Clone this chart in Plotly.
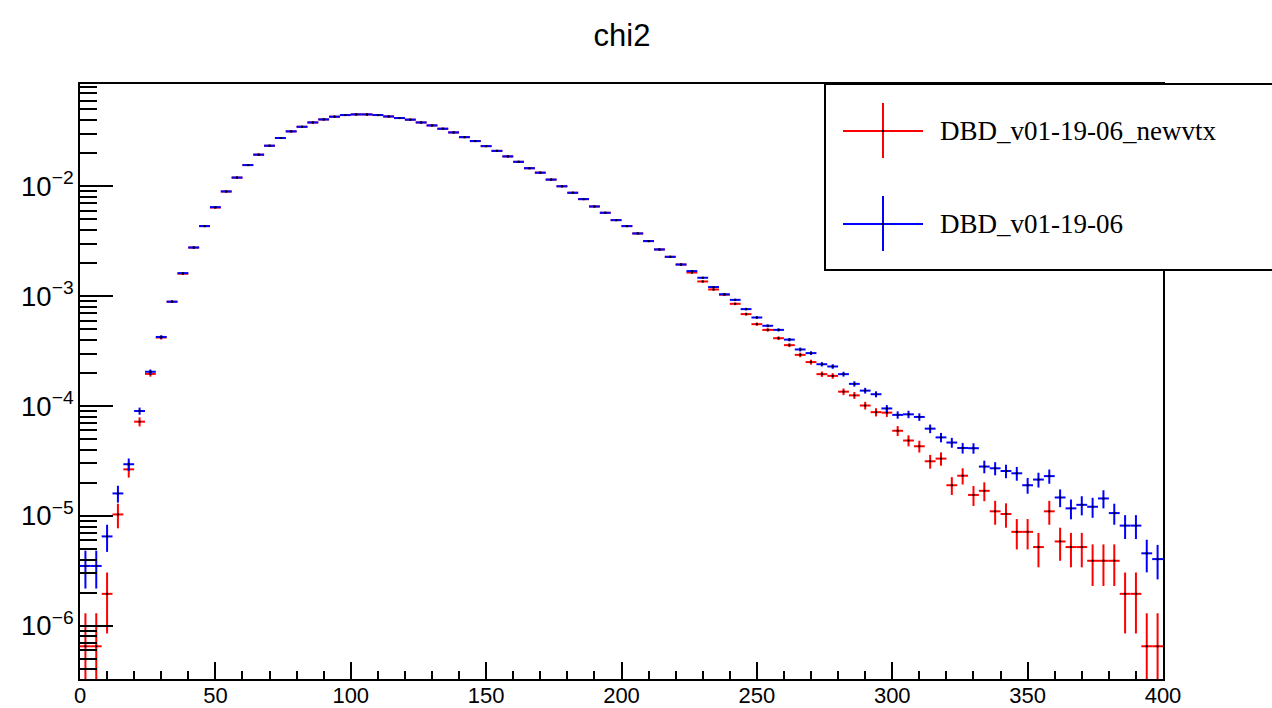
import plotly.graph_objects as go

# ---------------- data ----------------
bin_width = 4
bin_centers = [2 + bin_width * i for i in range(100)]

red_label = "DBD_v01-19-06_newvtx"
blue_label = "DBD_v01-19-06"

red_values = [
    6.5e-7, 6.5e-7, 1.95e-6, 1.03e-5, 2.65e-5, 7.2e-5, 1.96e-4, 4.2e-4, 8.9e-4, 1.60e-3,
    2.77e-3, 4.34e-3, 6.40e-3, 8.97e-3, 1.20e-2, 1.56e-2, 1.94e-2, 2.34e-2, 2.75e-2, 3.16e-2,
    3.48e-2, 3.81e-2, 4.06e-2, 4.30e-2, 4.45e-2, 4.51e-2, 4.51e-2, 4.45e-2, 4.32e-2, 4.18e-2,
    4.04e-2, 3.81e-2, 3.58e-2, 3.34e-2, 3.09e-2, 2.80e-2, 2.58e-2, 2.32e-2, 2.10e-2, 1.87e-2,
    1.67e-2, 1.46e-2, 1.33e-2, 1.15e-2, 1.00e-2, 8.73e-3, 7.64e-3, 6.55e-3, 5.74e-3, 4.92e-3,
    4.34e-3, 3.72e-3, 3.17e-3, 2.66e-3, 2.28e-3, 1.94e-3, 1.64e-3, 1.36e-3, 1.15e-3, 1.03e-3,
    8.51e-4, 6.86e-4, 5.56e-4, 4.93e-4, 4.14e-4, 3.58e-4, 2.92e-4, 2.51e-4, 1.95e-4, 1.88e-4,
    1.35e-4, 1.25e-4, 1.01e-4, 8.79e-5, 8.7e-5, 5.95e-5, 4.85e-5, 4.3e-5, 3.14e-5, 3.32e-5,
    1.90e-5, 2.32e-5, 1.55e-5, 1.69e-5, 1.10e-5, 1.04e-5, 7.15e-6, 7.15e-6, 5.2e-6, 1.1e-5,
    5.85e-6, 5.2e-6, 5.2e-6, 3.9e-6, 3.9e-6, 3.9e-6, 1.95e-6, 1.95e-6, 6.5e-7, 6.5e-7,
]
red_errors = [
    6.5e-7, 6.5e-7, 1.1e-6, 2.6e-6, 4.2e-6, 6.8e-6, 1.1e-5, 1.7e-5, 2.4e-5, 3.2e-5,
    4.2e-5, 5.3e-5, 6.4e-5, 7.6e-5, 8.8e-5, 1.0e-4, 1.1e-4, 1.2e-4, 1.3e-4, 1.4e-4,
    1.5e-4, 1.6e-4, 1.6e-4, 1.7e-4, 1.7e-4, 1.7e-4, 1.7e-4, 1.7e-4, 1.7e-4, 1.6e-4,
    1.6e-4, 1.6e-4, 1.5e-4, 1.5e-4, 1.4e-4, 1.3e-4, 1.3e-4, 1.2e-4, 1.2e-4, 1.1e-4,
    1.0e-4, 9.7e-5, 9.3e-5, 8.6e-5, 8.1e-5, 7.5e-5, 7.0e-5, 6.5e-5, 6.1e-5, 5.7e-5,
    5.3e-5, 4.9e-5, 4.5e-5, 4.2e-5, 3.8e-5, 3.6e-5, 3.3e-5, 3.0e-5, 2.7e-5, 2.6e-5,
    2.4e-5, 2.1e-5, 1.9e-5, 1.8e-5, 1.6e-5, 1.5e-5, 1.4e-5, 1.3e-5, 1.1e-5, 1.1e-5,
    9.4e-6, 9.0e-6, 8.1e-6, 7.6e-6, 7.5e-6, 6.2e-6, 5.6e-6, 5.3e-6, 4.5e-6, 4.6e-6,
    3.5e-6, 3.9e-6, 3.2e-6, 3.3e-6, 2.7e-6, 2.6e-6, 2.2e-6, 2.2e-6, 1.8e-6, 2.7e-6,
    1.95e-6, 1.8e-6, 1.8e-6, 1.6e-6, 1.6e-6, 1.6e-6, 1.1e-6, 1.1e-6, 6.5e-7, 6.5e-7,
]

blue_values = [
    3.5e-6, 3.5e-6, 6.5e-6, 1.6e-5, 2.95e-5, 9.0e-5, 2.05e-4, 4.25e-4, 8.9e-4, 1.62e-3,
    2.77e-3, 4.34e-3, 6.46e-3, 8.97e-3, 1.20e-2, 1.56e-2, 1.94e-2, 2.34e-2, 2.75e-2, 3.16e-2,
    3.48e-2, 3.81e-2, 4.06e-2, 4.30e-2, 4.45e-2, 4.51e-2, 4.51e-2, 4.45e-2, 4.32e-2, 4.18e-2,
    4.04e-2, 3.81e-2, 3.58e-2, 3.34e-2, 3.09e-2, 2.80e-2, 2.58e-2, 2.32e-2, 2.10e-2, 1.87e-2,
    1.67e-2, 1.46e-2, 1.33e-2, 1.15e-2, 1.00e-2, 8.73e-3, 7.64e-3, 6.55e-3, 5.74e-3, 4.92e-3,
    4.34e-3, 3.72e-3, 3.17e-3, 2.66e-3, 2.28e-3, 1.94e-3, 1.69e-3, 1.47e-3, 1.21e-3, 1.04e-3,
    9.25e-4, 7.62e-4, 6.39e-4, 5.37e-4, 4.93e-4, 4.02e-4, 3.27e-4, 3.03e-4, 2.40e-4, 2.29e-4,
    1.95e-4, 1.59e-4, 1.38e-4, 1.28e-4, 9.5e-5, 8.3e-5, 8.4e-5, 7.95e-5, 6.22e-5, 5.18e-5,
    4.65e-5, 4.15e-5, 4.13e-5, 2.81e-5, 2.71e-5, 2.56e-5, 2.44e-5, 1.90e-5, 2.14e-5, 2.30e-5,
    1.47e-5, 1.17e-5, 1.26e-5, 1.21e-5, 1.44e-5, 1.06e-5, 8.15e-6, 8.15e-6, 4.56e-6, 4.04e-6,
]
blue_errors = [
    1.32e-6, 1.32e-6, 1.8e-6, 2.8e-6, 3.8e-6, 6.7e-6, 1.0e-5, 1.5e-5, 2.1e-5, 2.8e-5,
    3.7e-5, 4.7e-5, 5.7e-5, 6.7e-5, 7.7e-5, 8.8e-5, 9.8e-5, 1.1e-4, 1.2e-4, 1.3e-4,
    1.3e-4, 1.4e-4, 1.4e-4, 1.5e-4, 1.5e-4, 1.5e-4, 1.5e-4, 1.5e-4, 1.5e-4, 1.4e-4,
    1.4e-4, 1.4e-4, 1.3e-4, 1.3e-4, 1.2e-4, 1.2e-4, 1.1e-4, 1.1e-4, 1.0e-4, 9.7e-5,
    9.1e-5, 8.5e-5, 8.2e-5, 7.6e-5, 7.1e-5, 6.6e-5, 6.2e-5, 5.7e-5, 5.4e-5, 5.0e-5,
    4.7e-5, 4.3e-5, 4.0e-5, 3.6e-5, 3.4e-5, 3.1e-5, 2.9e-5, 2.7e-5, 2.5e-5, 2.3e-5,
    2.2e-5, 2.0e-5, 1.8e-5, 1.6e-5, 1.6e-5, 1.4e-5, 1.3e-5, 1.2e-5, 1.1e-5, 1.1e-5,
    9.9e-6, 8.9e-6, 8.3e-6, 8.0e-6, 6.9e-6, 6.4e-6, 6.5e-6, 6.3e-6, 5.6e-6, 5.1e-6,
    4.8e-6, 4.6e-6, 4.5e-6, 3.7e-6, 3.7e-6, 3.6e-6, 3.5e-6, 3.1e-6, 3.3e-6, 3.4e-6,
    2.7e-6, 2.4e-6, 2.5e-6, 2.5e-6, 2.7e-6, 2.3e-6, 2.0e-6, 2.0e-6, 1.5e-6, 1.4e-6,
]

x_ticks = [0, 50, 100, 150, 200, 250, 300, 350, 400]

# ---------------- figure ----------------
W, H = 1272, 708
L, R, T, B = 80, 109, 84, 29
PW, PH = W - L - R, H - T - B


def xp(px):
    return (px - L) / PW


def yp(py):
    return (H - B - py) / PH


def hist_trace(values, errors, color, name):
    return go.Scatter(
        x=bin_centers,
        y=values,
        mode="markers",
        name=name,
        showlegend=False,
        marker=dict(symbol="square", size=2, color="black", line=dict(width=0)),
        error_x=dict(type="constant", value=bin_width / 2, color=color,
                     thickness=2, width=0),
        error_y=dict(type="data", array=errors, symmetric=True, color=color,
                     thickness=2, width=0),
        cliponaxis=True,
    )


fig = go.Figure()
fig.add_trace(hist_trace(red_values, red_errors, "#ff0000", red_label))
fig.add_trace(hist_trace(blue_values, blue_errors, "#0000ff", blue_label))

tick_font = dict(family="Liberation Sans, Arial, sans-serif", size=22, color="black")

fig.update_layout(
    width=W, height=H,
    margin=dict(l=L, r=R, t=T, b=B, autoexpand=False),
    paper_bgcolor="white",
    plot_bgcolor="white",
    showlegend=False,
    title=dict(
        text="chi2",
        x=622 / W, xanchor="center",
        y=1 - 35 / H, yanchor="middle", yref="container",
        font=dict(family="Liberation Sans, Arial, sans-serif", size=31, color="black"),
    ),
    xaxis=dict(
        range=[0, 400],
        tickmode="array", tickvals=x_ticks, ticktext=[str(v) for v in x_ticks],
        ticks="inside", ticklen=17, tickwidth=2, tickcolor="black",
        minor=dict(ticks="inside", ticklen=8, tickwidth=2, tickcolor="black",
                   dtick=10, showgrid=False),
        showline=True, linecolor="black", linewidth=2, mirror=True,
        showgrid=False, zeroline=False,
        tickfont=tick_font,
        ticklabelstandoff=-4,
        automargin=False,
    ),
    yaxis=dict(
        type="log",
        range=[-6.485, -1.069],
        dtick=1,
        exponentformat="power",
        ticks="inside", ticklen=33, tickwidth=2, tickcolor="black",
        minor=dict(ticks="inside", ticklen=17, tickwidth=2, tickcolor="black",
                   dtick="D1", showgrid=False),
        showline=True, linecolor="black", linewidth=2, mirror=True,
        showgrid=False, zeroline=False,
        tickfont=tick_font,
        automargin=False,
    ),
)

# ---------------- legend box (ROOT style) ----------------
shapes = [
    dict(type="rect", xref="paper", yref="paper",
         x0=xp(825), x1=xp(1280), y0=yp(270), y1=yp(84),
         line=dict(color="black", width=2), fillcolor="white", layer="above"),
]
entries = [(red_label, "#ff0000", 131), (blue_label, "#0000ff", 224)]
for text, color, cy in entries:
    shapes.append(dict(type="line", xref="paper", yref="paper",
                       x0=xp(843), x1=xp(923), y0=yp(cy), y1=yp(cy),
                       line=dict(color=color, width=2), layer="above"))
    shapes.append(dict(type="line", xref="paper", yref="paper",
                       x0=xp(883), x1=xp(883), y0=yp(cy - 28), y1=yp(cy + 27),
                       line=dict(color=color, width=2), layer="above"))
    shapes.append(dict(type="rect", xref="paper", yref="paper",
                       x0=xp(882), x1=xp(884), y0=yp(cy + 1), y1=yp(cy - 1),
                       line=dict(width=0), fillcolor="black", layer="above"))
    fig.add_annotation(
        text=text, xref="paper", yref="paper",
        x=xp(938), y=yp(cy), xanchor="left", yanchor="middle",
        showarrow=False,
        font=dict(family="Liberation Serif, Times New Roman, serif", size=27, color="black"),
    )
fig.update_layout(shapes=shapes)

fig.write_html("out.html")
